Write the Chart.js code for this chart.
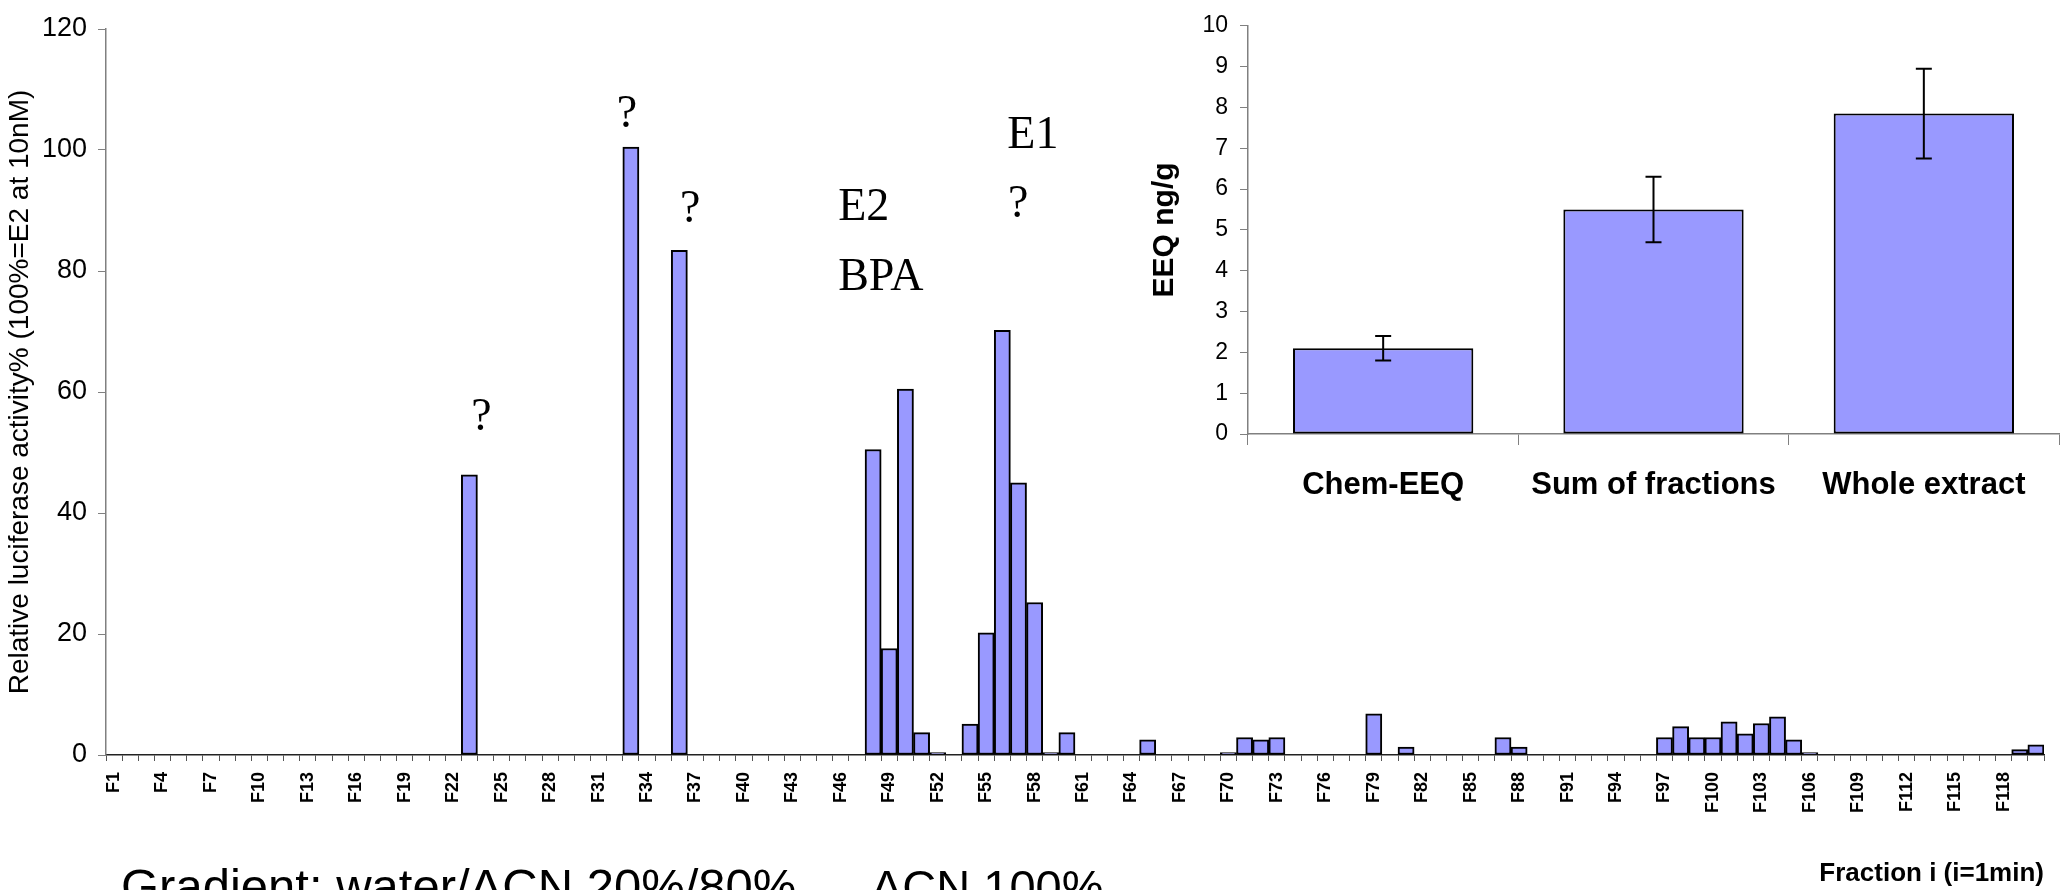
<!DOCTYPE html>
<html><head><meta charset="utf-8">
<script src="https://cdn.jsdelivr.net/npm/chart.js@4/dist/chart.umd.min.js"></script>
<style>
html,body{margin:0;padding:0;background:#fff;}
#wrap{position:relative;width:2069px;height:890px;overflow:hidden;background:#fff;}
#main{position:absolute;left:0;top:0;}
#inset{position:absolute;left:1100px;top:0;}
</style></head><body>
<div id="wrap"><canvas id="main" width="2069" height="890"></canvas><canvas id="inset" width="969" height="520"></canvas></div>
<script>
// ---- data ----
const fractionLabels = Array.from({length:120}, (_, i) => 'F' + (i + 1));
const activity = [
  0,0,0,0,0,0,0,0,0,0,            // F1-F10
  0,0,0,0,0,0,0,0,0,0,            // F11-F20
  0,0,46.3,0,0,0,0,0,0,0,         // F21-F30
  0,0,100.5,0,0,83.4,0,0,0,0,     // F31-F40
  0,0,0,0,0,0,0,50.5,17.6,60.5,   // F41-F50
  3.7,0.4,0,5.1,20.2,70.2,45,25.2,0.4,3.7, // F51-F60
  0,0,0,0,2.5,0,0,0,0,0.4,        // F61-F70
  2.9,2.5,2.9,0,0,0,0,0,6.8,0,    // F71-F80
  1.3,0,0,0,0,0,2.9,1.3,0,0,      // F81-F90
  0,0,0,0,0,0,2.9,4.7,2.9,2.9,    // F91-F100
  5.5,3.5,5.2,6.3,2.5,0.4,0,0,0,0, // F101-F110
  0,0,0,0,0,0,0,0,0.9,1.7         // F111-F120
];
const mainYTicks = [0, 20, 40, 60, 80, 100, 120];
const insetCategories = ['Chem-EEQ', 'Sum of fractions', 'Whole extract'];
const insetValues = [2.1, 5.5, 7.85];
const insetErrors = [0.3, 0.8, 1.1];
const insetYTicks = [0,1,2,3,4,5,6,7,8,9,10];

// annotation texts anchored to categories / values
const annotations = [
  {text:'?',   cat:'F23', y:53.7,  dx:12,  align:'center'},
  {text:'?',   cat:'F33', y:103.8, dx:-4,  align:'center'},
  {text:'?',   cat:'F36', y:88.1,  dx:11,  align:'center'},
  {text:'E2',  cat:'F48', y:88.4,  dx:-35, align:'left'},
  {text:'BPA', cat:'F48', y:76.9,  dx:-35, align:'left'},
  {text:'E1',  cat:'F56', y:100.3, dx:5,   align:'left'},
  {text:'?',   cat:'F56', y:88.9,  dx:16,  align:'center'}
];

Chart.defaults.font.family = '"Liberation Sans", Arial, sans-serif';
Chart.defaults.color = '#000';

const annotationPlugin = {
  id: 'annot',
  afterDraw(chart) {
    const ctx = chart.ctx, xs = chart.scales.x, ys = chart.scales.y;
    ctx.save();
    ctx.fillStyle = '#000';
    ctx.font = '46px "Liberation Serif", "Times New Roman", serif';
    ctx.textBaseline = 'alphabetic';
    annotations.forEach(a => {
      const x = xs.getPixelForValue(fractionLabels.indexOf(a.cat)) + a.dx;
      const y = ys.getPixelForValue(a.y);
      ctx.textAlign = a.align;
      ctx.fillText(a.text, x, y);
    });
    ctx.font = '49px "Liberation Sans", Arial, sans-serif';
    ctx.textAlign = 'left';
    ctx.fillText('Gradient: water/ACN 20%/80%', 121, 903);
    ctx.font = '47px "Liberation Sans", Arial, sans-serif';
    ctx.fillText('ACN 100%', 871, 903);
    ctx.restore();
  }
};

new Chart(document.getElementById('main'), {
  type: 'bar',
  data: {
    labels: fractionLabels,
    datasets: [{
      data: activity.map(v => v === 0 ? null : v),
      backgroundColor: '#9999FF',
      borderColor: '#000',
      borderWidth: 2,
      borderSkipped: false,
      barPercentage: 1,
      categoryPercentage: 1
    }]
  },
  options: {
    responsive: false, animation: false, devicePixelRatio: 1,
    layout: {padding: {top: 29, right: 25, left: 0, bottom: 0}},
    plugins: {legend: {display: false}, tooltip: {enabled: false}},
    scales: {
      x: {
        offset: true,
        grid: {offset: true, drawOnChartArea: false, drawTicks: true, tickLength: 6, color: '#555', lineWidth: 1},
        border: {display: true, color: '#222', width: 1.5},
        ticks: {autoSkip: false, maxRotation: 90, minRotation: 90, padding: 11, font: {size: 18, weight: 'bold'}, color: '#000',
          callback: (v, i) => (i % 3 === 0 ? fractionLabels[i] : '')},
        title: {display: true, text: 'Fraction i (i=1min)', align: 'end', font: {size: 26, weight: 'bold'}, color: '#000', padding: {top: 0, bottom: 1}},
        afterFit: s => { s.height = 135; }
      },
      y: {
        min: 0, max: 120,
        afterBuildTicks: s => { s.ticks = mainYTicks.map(v => ({value: v})); },
        ticks: {padding: 11, font: {size: 27}, color: '#000'},
        grid: {drawOnChartArea: false, drawTicks: true, tickLength: 8, color: '#808080'},
        border: {color: '#808080', width: 1.5},
        title: {display: true, text: 'Relative luciferase activity% (100%=E2 at 10nM)', font: {size: 28}, color: '#000', padding: {top: 3, bottom: 0}},
        afterFit: s => { s.width = 106; }
      }
    }
  },
  plugins: [annotationPlugin]
});

const errorBarPlugin = {
  id: 'errbars',
  afterDatasetsDraw(chart) {
    const ctx = chart.ctx, ys = chart.scales.y;
    const meta = chart.getDatasetMeta(0);
    ctx.save();
    ctx.strokeStyle = '#000';
    ctx.lineWidth = 2;
    meta.data.forEach((bar, i) => {
      const x = bar.x;
      const top = ys.getPixelForValue(insetValues[i] + insetErrors[i]);
      const bot = ys.getPixelForValue(insetValues[i] - insetErrors[i]);
      ctx.beginPath();
      ctx.moveTo(x, top); ctx.lineTo(x, bot);
      ctx.moveTo(x - 8, top); ctx.lineTo(x + 8, top);
      ctx.moveTo(x - 8, bot); ctx.lineTo(x + 8, bot);
      ctx.stroke();
    });
    ctx.restore();
  }
};

new Chart(document.getElementById('inset'), {
  type: 'bar',
  data: {
    labels: insetCategories,
    datasets: [{
      data: insetValues,
      backgroundColor: '#9999FF',
      borderColor: '#000',
      borderWidth: 2,
      borderSkipped: false,
      barPercentage: 0.667,
      categoryPercentage: 1
    }]
  },
  options: {
    responsive: false, animation: false, devicePixelRatio: 1,
    layout: {padding: {top: 19, right: 10, left: 0, bottom: 0}},
    plugins: {legend: {display: false}, tooltip: {enabled: false}},
    scales: {
      x: {
        offset: true,
        grid: {offset: true, drawOnChartArea: false, drawTicks: true, tickLength: 11, color: '#808080'},
        border: {color: '#808080', width: 1.5},
        ticks: {autoSkip: false, maxRotation: 0, padding: 22, font: {size: 31, weight: 'bold'}, color: '#000'},
        afterFit: s => { s.height = 86; }
      },
      y: {
        min: 0, max: 10,
        afterBuildTicks: s => { s.ticks = insetYTicks.map(v => ({value: v})); },
        ticks: {padding: 12, font: {size: 23}, color: '#000'},
        grid: {drawOnChartArea: false, drawTicks: true, tickLength: 8, color: '#808080'},
        border: {color: '#808080', width: 1.5},
        title: {display: true, text: 'EEQ ng/g', font: {size: 30, weight: 'bold'}, color: '#000', padding: {top: 47, bottom: 0}},
        afterFit: s => { s.width = 148; }
      }
    }
  },
  plugins: [errorBarPlugin]
});
</script>
</body></html>
